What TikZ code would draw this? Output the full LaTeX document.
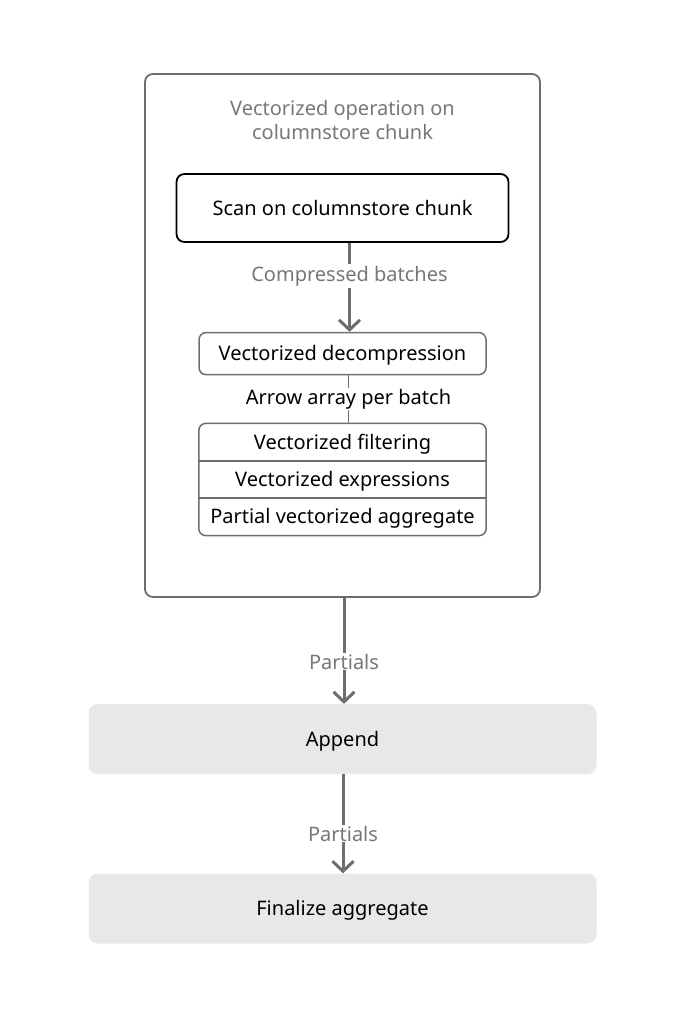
\documentclass[tikz,border=0pt]{standalone}
\usepackage{fontspec}
\setmainfont{Noto Sans}
\usetikzlibrary{positioning,fit,arrows.meta}
\definecolor{edgegray}{HTML}{6E6E6E}
\definecolor{textgray}{HTML}{777777}
\definecolor{boxfill}{HTML}{E8E8E8}
\tikzset{
  chunkbox/.style={rectangle, rounded corners=8pt, draw=edgegray, line width=1.8pt},
  scanbox/.style={rectangle, rounded corners=8pt, draw=black, line width=1.8pt, font=\fontsize{20}{24}\selectfont},
  stepbox/.style={rectangle, rounded corners=7pt, draw=edgegray, line width=1.5pt, font=\fontsize{20}{24}\selectfont},
  rowbox/.style={rectangle, minimum width=287pt, minimum height=37pt, inner sep=0pt, text height=17pt, text depth=3pt, font=\fontsize{20}{24}\selectfont},
  stagebox/.style={rectangle, rounded corners=9pt, fill=boxfill, minimum width=508pt, minimum height=70pt, text height=17pt, text depth=3pt, font=\fontsize{20}{24}\selectfont},
  graylabel/.style={text=textgray, fill=white, inner sep=2pt, font=\fontsize{20}{24}\selectfont},
  flow/.style={draw=edgegray, line width=3pt, -{Straight Barb[length=10pt, width=21pt]}},
  link/.style={draw=edgegray, line width=1.8pt}
}
\begin{document}
\begin{tikzpicture}[x=1pt, y=1pt]
      \useasboundingbox (0,0) rectangle (687,-1016);
      \node[chunkbox, minimum width=395pt, minimum height=523pt] (chunk) at (342.5,-335.5) {};
      \node[text=textgray, align=center, inner sep=0pt, below=27pt of chunk.north, font=\fontsize{20}{24}\selectfont] (chunktitle) {Vectorized operation on\\columnstore chunk};
      \node[scanbox, minimum width=332pt, minimum height=68pt, text height=17pt, text depth=3pt, below=100pt of chunk.north] (scan) {Scan on columnstore chunk};
      \node[stepbox, minimum width=287pt, minimum height=42pt, inner sep=0pt, text height=17pt, text depth=3pt, below=89pt of scan] (decomp) {Vectorized decompression};
      \node[rowbox, below=48pt of decomp] (filter) {Vectorized filtering};
      \node[rowbox, below=0pt of filter] (exprs) {Vectorized expressions};
      \node[rowbox, below=0pt of exprs] (partagg) {Partial vectorized aggregate};
      \node[stepbox, fit=(filter)(partagg), inner sep=0pt] (ops) {};
      \draw[link, line width=1.5pt] (filter.south west) -- (filter.south east);
      \draw[link, line width=1.5pt] (exprs.south west) -- (exprs.south east);
      \node[stagebox, below=106pt of chunk] (append) {Append};
      \node[stagebox, below=99pt of append] (final) {Finalize aggregate};
      \draw[flow] ([xshift=7pt]scan.south) -- node[graylabel, pos=0.37] {Compressed batches} ([xshift=7pt]decomp.north);
      \draw[link] ([xshift=6pt]decomp.south) -- node[fill=white, inner sep=1pt, font=\fontsize{20}{24}\selectfont] {Arrow array per batch} ([xshift=6pt]ops.north);
      \draw[flow] ([xshift=1.5pt]chunk.south) -- node[graylabel, inner sep=1pt, pos=0.6] {Partials} ([xshift=1.5pt]append.north);
      \draw[flow] ([xshift=0.5pt]append.south) -- node[graylabel, inner sep=1pt, pos=0.6] {Partials} ([xshift=0.5pt]final.north);
    \end{tikzpicture}
\end{document}
